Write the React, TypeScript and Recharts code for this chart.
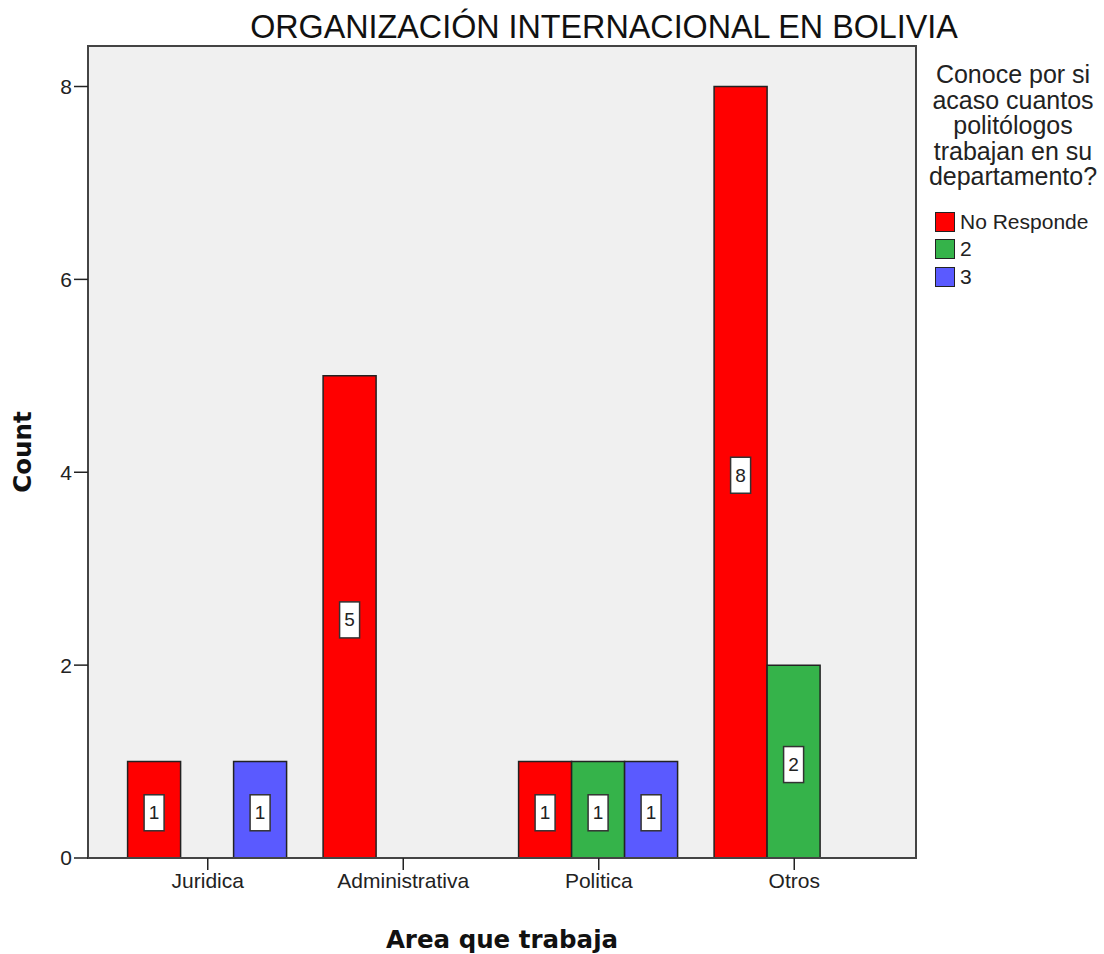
import { BarChart, Bar, XAxis, YAxis, CartesianGrid, Legend, LabelList, ReferenceArea } from "recharts"

const categories = ["Juridica", "Administrativa", "Politica", "Otros"]
const noResponde = [1, 5, 1, 8]
const dos = [null, null, 1, 2]
const tres = [1, null, 1, null]
const seriesKeys = ["nr", "dos", "tres"]
const seriesNames = ["No Responde", "2", "3"]
const seriesColors = ["#ff0000", "#35b34a", "#5a5aff"]
const yTicks = [0, 2, 4, 6, 8]
const legendTitle = ["Conoce por si", "acaso cuantos", "politólogos", "trabajan en su", "departamento?"]

const data = categories.map((area, i) => ({
  area,
  nr: noResponde[i],
  dos: dos[i],
  tres: tres[i],
}))

const sans = "'Liberation Sans', Arial, sans-serif"
const boldFont = "'DejaVu Sans', Verdana, sans-serif"
const frame = "#444"
const yMax = 8.42

function BoxLabel(props: any) {
  const { value } = props
  const x = Number(props.x)
  const y = Number(props.y)
  const w = Number(props.width)
  const h = Number(props.height)
  if (value == null || !h) return null
  const cx = x + w / 2
  const cy = y + h / 2 + 3
  return (
    <g>
      <rect x={cx - 10} y={cy - 18} width={20} height={36} fill="#fff" stroke="#333" strokeWidth={1.5} />
      <text x={cx} y={cy} textAnchor="middle" dominantBaseline="central" fontSize={19} fontFamily={sans} fill="#222">
        {value}
      </text>
    </g>
  )
}

function CountLabel(props: any) {
  const vb = props.viewBox || {}
  const cx = (vb.x ?? 0) + 22
  const cy = (vb.y ?? 0) + (vb.height ?? 0) / 2
  return (
    <text
      x={cx}
      y={cy}
      transform={`rotate(-90 ${cx} ${cy})`}
      textAnchor="middle"
      dominantBaseline="central"
      fontFamily={boldFont}
      fontWeight="bold"
      fontSize={24.5}
      fill="#111"
    >
      Count
    </text>
  )
}

function LegendBox({ payload }: any) {
  const items = [...(payload || [])].sort(
    (a: any, b: any) => seriesNames.indexOf(a.value) - seriesNames.indexOf(b.value)
  )
  return (
    <div style={{ fontFamily: sans, color: "#222" }}>
      <div style={{ textAlign: "center", fontSize: 25, lineHeight: "25.5px", whiteSpace: "nowrap" }}>
        {legendTitle.map((t) => (
          <div key={t}>{t}</div>
        ))}
      </div>
      <div style={{ marginTop: 18.5, paddingLeft: 13 }}>
        {items.map((p: any) => (
          <div key={p.value} style={{ display: "flex", alignItems: "center", height: 27.5, fontSize: 21 }}>
            <span
              style={{
                display: "inline-block",
                width: 20,
                height: 20,
                boxSizing: "border-box",
                background: p.color,
                border: "1.5px solid #222",
                marginRight: 5,
              }}
            />
            <span>{p.value}</span>
          </div>
        ))}
      </div>
    </div>
  )
}

export default function App() {
  return (
    <div style={{ position: "absolute", left: 0, top: 0, width: 1104, height: 954, background: "#fff" }}>
      <div
        style={{
          position: "absolute",
          left: 200,
          top: 9,
          width: 808,
          textAlign: "center",
          fontFamily: sans,
          fontSize: 32.3,
          lineHeight: "36px",
          color: "#111",
          whiteSpace: "nowrap",
        }}
      >
        ORGANIZACIÓN INTERNACIONAL EN BOLIVIA
      </div>
      <BarChart
        width={1104}
        height={954}
        data={data}
        margin={{ top: 46, right: 6, bottom: 0, left: 0 }}
        barCategoryGap="9%"
        barGap={0}
      >
        <CartesianGrid fill="#f0f0f0" horizontal={false} vertical={false} />
        <XAxis
          dataKey="area"
          height={96}
          padding={{ left: 22, right: 24 }}
          tickSize={12}
          tickMargin={3}
          fontSize={21}
          tick={{ fontSize: 21, fill: "#222", fontFamily: sans }}
          axisLine={{ stroke: frame, strokeWidth: 2 }}
          tickLine={{ stroke: "#222", strokeWidth: 1.5 }}
          label={{
            value: "Area que trabaja",
            position: "insideBottom",
            offset: 6,
            style: { fontFamily: boldFont, fontWeight: "bold", fontSize: 24.5, fill: "#111" },
          }}
        />
        <XAxis xAxisId="frame" dataKey="area" hide />
        <YAxis
          width={88}
          domain={[0, yMax]}
          ticks={yTicks}
          tickSize={14}
          tickMargin={2}
          fontSize={21}
          tick={{ fontSize: 21, fill: "#222", fontFamily: sans }}
          axisLine={{ stroke: frame, strokeWidth: 2 }}
          tickLine={{ stroke: "#222", strokeWidth: 1.5 }}
          label={<CountLabel />}
        />
        <Legend
          layout="vertical"
          align="right"
          verticalAlign="top"
          content={<LegendBox />}
          wrapperStyle={{ left: 922, top: 62, width: 182 }}
        />
        {seriesKeys.map((k, i) => (
          <Bar
            key={k}
            dataKey={k}
            name={seriesNames[i]}
            fill={seriesColors[i]}
            stroke="#222"
            strokeWidth={1.5}
            isAnimationActive={false}
          >
            <LabelList dataKey={k} content={<BoxLabel />} />
          </Bar>
        ))}
        <ReferenceArea
          xAxisId="frame"
          x1={categories[0]}
          x2={categories[categories.length - 1]}
          y1={0}
          y2={yMax}
          fill="none"
          stroke={frame}
          strokeWidth={2}
        />
      </BarChart>
    </div>
  )
}
